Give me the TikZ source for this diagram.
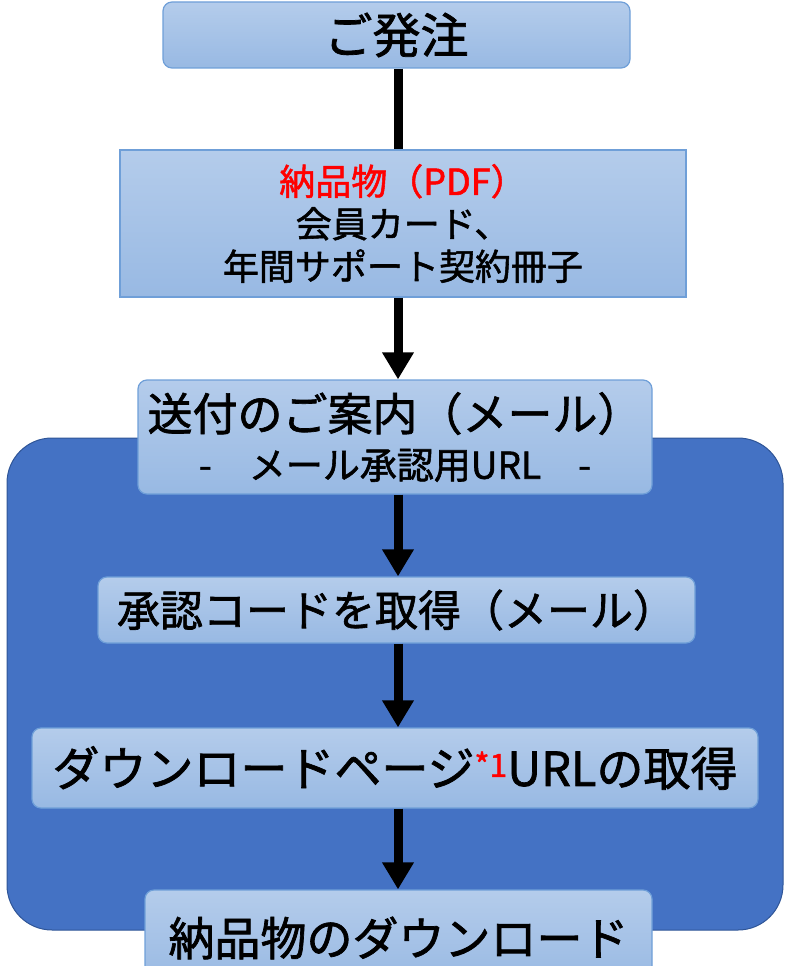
\documentclass[tikz,border=0pt]{standalone}
\usepackage{fontspec}
\usepackage{tikz}
\usetikzlibrary{arrows.meta}
\newfontfamily\jpfont[FakeBold=1.5]{Noto Sans CJK JP}
\definecolor{boxtop}{HTML}{B4CCEB}
\definecolor{boxbot}{HTML}{98B9E3}
\definecolor{boxline}{HTML}{6F9FD8}
\definecolor{panelfill}{HTML}{4472C4}
\definecolor{panelline}{HTML}{2F5597}

\begin{document}
\begin{tikzpicture}[x=1pt,y=-1pt,
    stepbox/.style={draw=boxline,line width=1.2pt,top color=boxtop,bottom color=boxbot,
      rounded corners=9pt,inner sep=0pt,align=center,text=black,font=\jpfont},
    flow/.style={line width=9pt,-{Triangle[width=30pt,length=27pt]}},
    panel/.style={fill=panelfill,draw=panelline,line width=1pt,rounded corners=45pt}]
    \useasboundingbox (0,0) rectangle (787,966);
    \clip (0,0) rectangle (787,966);

    \draw[panel] (7,438) rectangle (783,930);

    \node[stepbox,minimum width=467pt,minimum height=66pt,font=\jpfont\fontsize{48}{52}\selectfont]
      at (396.5,35) (order) {ご発注};
    \node[stepbox,rounded corners=0pt,minimum width=566pt,minimum height=147pt,
      font=\jpfont\fontsize{36}{42.5}\selectfont]
      at (403,223.5) (goods) {\textcolor{red}{納品物（PDF）}\\会員カード、\\年間サポート契約冊子};
    \node[stepbox,minimum width=514pt,minimum height=114pt]
      at (395,437) (notice) {\fontsize{45}{50}\selectfont 送付のご案内（メール）\\[13pt]
        \fontsize{37}{50}\selectfont -\hspace{1em}メール承認用URL\hspace{1em}-};
    \node[stepbox,minimum width=597pt,minimum height=66pt,font=\jpfont\fontsize{43}{46}\selectfont]
      at (396.5,610) (code) {承認コードを取得（メール）};
    \node[stepbox,minimum width=726pt,minimum height=80pt,font=\jpfont\fontsize{47}{50}\selectfont]
      at (395,768) (page) {ダウンロードページ\textcolor{red}{\raisebox{9pt}{\fontsize{32}{34}\selectfont *1}}URLの取得};
    \node[stepbox,minimum width=507pt,minimum height=96pt,font=\jpfont\fontsize{46}{50}\selectfont]
      at (398.5,938) (load) {納品物のダウンロード};

    \coordinate (ax) at (398,0);
    \draw[line width=9pt] (order.south -| ax) -- (goods.north -| ax);
    \draw[flow] (goods.south -| ax) -- (notice.north -| ax);
    \draw[flow] (notice.south -| ax) -- (code.north -| ax);
    \draw[flow] (code.south -| ax) -- (page.north -| ax);
    \draw[flow] (page.south -| ax) -- (load.north -| ax);
\end{tikzpicture}
\end{document}
